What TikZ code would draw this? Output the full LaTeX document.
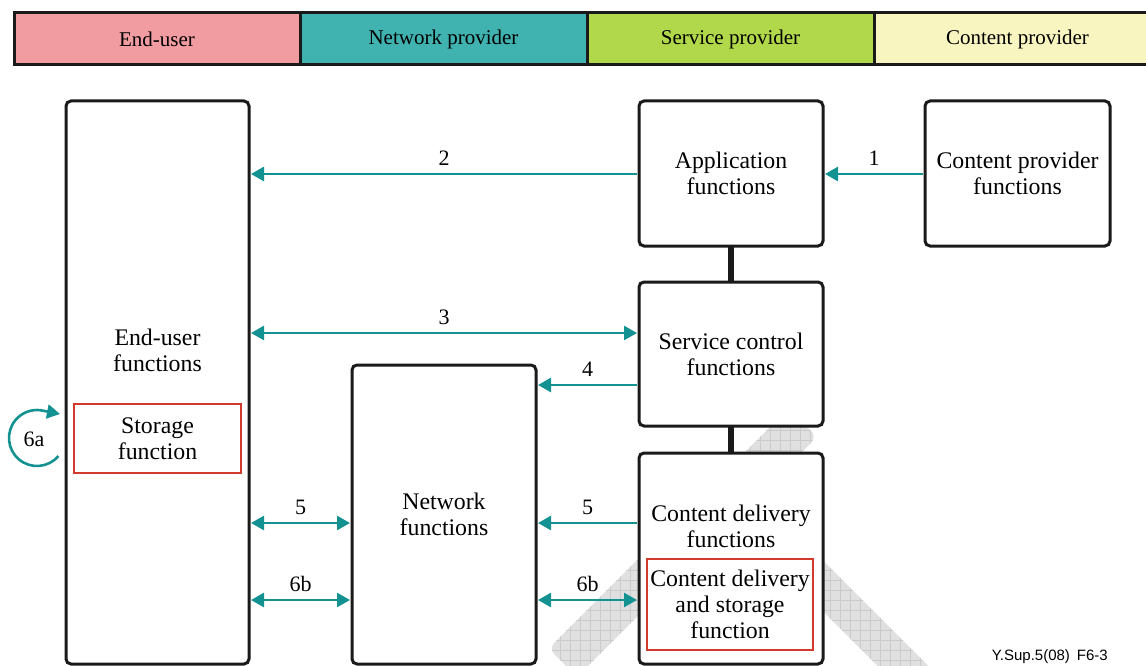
\documentclass[tikz,border=0pt]{standalone}
\usepackage{fontspec}
\setmainfont{Liberation Serif}
\newfontfamily\codefont{Liberation Sans}
\usetikzlibrary{arrows.meta,calc}
\definecolor{eupink}{RGB}{240,156,160}
\definecolor{npteal}{RGB}{64,179,176}
\definecolor{spgreen}{RGB}{177,216,74}
\definecolor{cpyellow}{RGB}{248,245,192}
\definecolor{arrowteal}{RGB}{20,146,146}
\definecolor{boxline}{RGB}{26,26,26}
\definecolor{redline}{RGB}{210,58,44}
\definecolor{wmfill}{RGB}{224,224,224}
\definecolor{wmgrid}{RGB}{202,202,202}
\begin{document}
\begin{tikzpicture}[x=1pt,y=-1pt,
  fbox/.style={draw=boxline, line width=3pt, rounded corners=5pt, fill=white, inner sep=0pt},
  rbox/.style={draw=redline, line width=2.4pt, inner sep=0pt},
  txt/.style={align=center, font=\fontsize{23.8}{26}\selectfont, inner sep=0pt},
  bartxt/.style={font=\fontsize{21}{24}\selectfont},
  cell/.style={draw=boxline, line width=3pt, minimum height=52pt, minimum width=287pt, inner sep=0pt},
  conn/.style={draw=arrowteal, line width=2.6pt, shorten >=0.5pt, shorten <=0.5pt},
  tipend/.style={-{Triangle[length=13pt,width=14pt]}},
  tipboth/.style={{Triangle[length=13pt,width=14pt]}-{Triangle[length=13pt,width=14pt]}},
  lbl/.style={font=\fontsize{22}{24}\selectfont, inner sep=0pt, above=7pt, midway},
  thick link/.style={draw=boxline, line width=6pt}
]
\useasboundingbox (0,0) rectangle (1146,666);
\clip (0,0) rectangle (1146,666);

% watermark bands
\begin{scope}
  \clip[rounded corners=8pt] (548.6,648.6) -- (788.6,408.6) -- (816.9,436.9) -- (576.9,676.9) -- cycle;
  \fill[wmfill] (500,700) rectangle (1000,380);
  \draw[wmgrid, line width=0.7pt, step=10pt] (500,700) grid (1000,380);
\end{scope}
\begin{scope}
  \clip[rounded corners=8pt] (727.7,465.3) -- (992.7,730.3) -- (967.3,755.7) -- (702.3,490.7) -- cycle;
  \fill[wmfill] (680,780) rectangle (1010,440);
  \draw[wmgrid, line width=0.7pt, step=10pt] (680,780) grid (1010,440);
\end{scope}

% top bar
\node[cell, fill=eupink, minimum width=286pt] (c1) at (157,39) {};
\node[cell, fill=npteal] (c2) at (443.5,39) {};
\node[cell, fill=spgreen] (c3) at (730.5,39) {};
\node[cell, fill=cpyellow] (c4) at (1017.5,39) {};
\node[bartxt] (t1) at (c1.center) {End-user};
\node[bartxt] (t2) at (c2.center) {Network provider};
\node[bartxt] (t3) at (c3.center) {Service provider};
\node[bartxt] (t4) at (c4.center) {Content provider};

% thick links
\draw[thick link] (731,246) -- (731,282);
\draw[thick link] (731,426) -- (731,453);

% boxes
\node[fbox, minimum width=183pt, minimum height=563pt] (eu) at (157.5,382.5) {};
\node[txt] (eut) at (157.5,350) {End-user\\functions};
\node[rbox, minimum width=167pt, minimum height=69pt] (sf) at (157.5,438.5) {};
\node[txt] (sft) at (sf.center) {Storage\\function};

\node[fbox, txt, minimum width=184pt, minimum height=145pt] (app) at (731,173.5) {Application\\functions};
\node[fbox, txt, minimum width=185pt, minimum height=145pt] (cp) at (1017.5,173.5) {Content provider\\functions};
\node[fbox, txt, minimum width=184pt, minimum height=144pt] (sc) at (731,354) {Service control\\functions};
\node[fbox, txt, minimum width=184pt, minimum height=299pt] (nf) at (444,514.5) {Network\\functions};
\node[fbox, minimum width=184pt, minimum height=211pt] (cdf) at (731,558.5) {};
\node[txt] (cdft) at (731,526) {Content delivery\\functions};
\node[rbox, minimum width=166pt, minimum height=91pt] (cds) at (730,604.5) {};
\node[txt] (cdst) at (cds.center) {Content delivery\\and storage\\function};

% connectors
\draw[conn, tipend] (cp.west |- 0,174) -- (app.east |- 0,174) node[lbl] (l1) {1};
\draw[conn, tipend] (app.west |- 0,174) -- (eu.east |- 0,174) node[lbl] (l2) {2};
\draw[conn, tipboth] (eu.east |- 0,333) -- (sc.west |- 0,333) node[lbl] (l3) {3};
\draw[conn, tipend] (sc.west |- 0,385) -- (nf.east |- 0,385) node[lbl] (l4) {4};
\draw[conn, tipboth] (eu.east |- 0,523) -- (nf.west |- 0,523) node[lbl] (l5a) {5};
\draw[conn, tipend] (cdf.west |- 0,523) -- (nf.east |- 0,523) node[lbl] (l5b) {5};
\draw[conn, tipboth] (eu.east |- 0,600) -- (nf.west |- 0,600) node[lbl] (l6a) {6b};
\draw[conn, tipboth] (nf.east |- 0,600) -- (cdf.west |- 0,600) node[lbl] (l6b) {6b};

% 6a loop
\coordinate (loopc) at (37,438);
\coordinate (looptip) at (60,414);
\draw[draw=arrowteal, line width=2.6pt, tipend] ([shift={(-40:28pt)}]loopc) arc[start angle=-40, end angle=-278, radius=28pt] -- (looptip);
\node[font=\fontsize{22}{24}\selectfont, inner sep=0pt] (l6loop) at (34,439) {6a};

% figure code
\node[font=\codefont\fontsize{15}{17}\selectfont, anchor=east, inner sep=0pt] (code) at (1108,657) {Y.Sup.5(08)\hspace{7pt}F6-3};
\end{tikzpicture}
\end{document}
